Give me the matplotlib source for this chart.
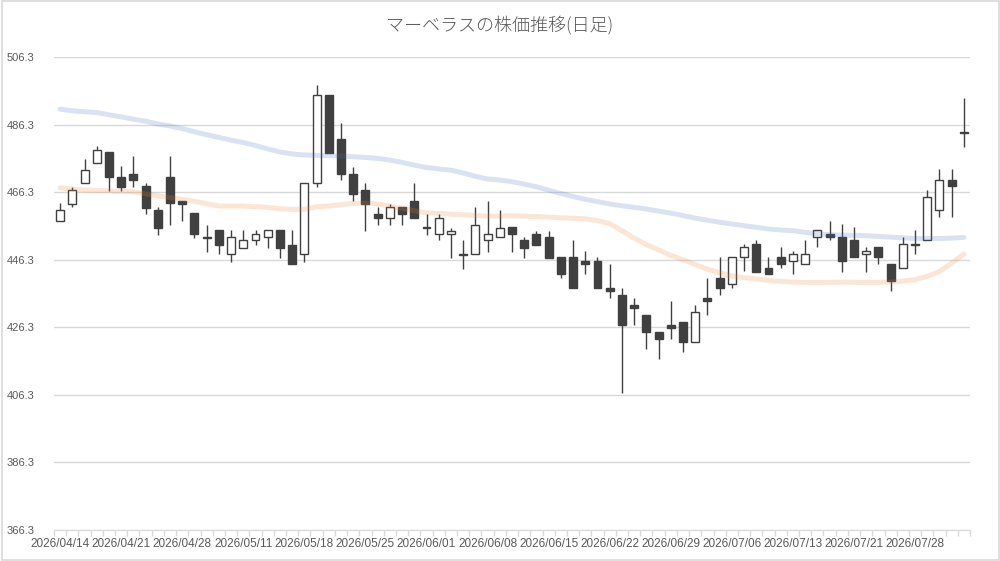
import numpy as np
import matplotlib
matplotlib.use("Agg")
import matplotlib.pyplot as plt
import matplotlib.patches as patches

dates = ["2026/04/14", "2026/04/15", "2026/04/16", "2026/04/17", "2026/04/20",
         "2026/04/21", "2026/04/22", "2026/04/23", "2026/04/24", "2026/04/27",
         "2026/04/28", "2026/04/30", "2026/05/01", "2026/05/07", "2026/05/08",
         "2026/05/11", "2026/05/12", "2026/05/13", "2026/05/14", "2026/05/15",
         "2026/05/18", "2026/05/19", "2026/05/20", "2026/05/21", "2026/05/22",
         "2026/05/25", "2026/05/26", "2026/05/27", "2026/05/28", "2026/05/29",
         "2026/06/01", "2026/06/02", "2026/06/03", "2026/06/04", "2026/06/05",
         "2026/06/08", "2026/06/09", "2026/06/10", "2026/06/11", "2026/06/12",
         "2026/06/15", "2026/06/16", "2026/06/17", "2026/06/18", "2026/06/19",
         "2026/06/22", "2026/06/23", "2026/06/24", "2026/06/25", "2026/06/26",
         "2026/06/29", "2026/06/30", "2026/07/01", "2026/07/02", "2026/07/03",
         "2026/07/06", "2026/07/07", "2026/07/08", "2026/07/09", "2026/07/10",
         "2026/07/13", "2026/07/14", "2026/07/15", "2026/07/16", "2026/07/17",
         "2026/07/21", "2026/07/22", "2026/07/23", "2026/07/24", "2026/07/27",
         "2026/07/28", "2026/07/29", "2026/07/30", "2026/07/31", "2026/08/03"]

opens = [457.9, 462.9, 468.9, 474.8, 478.1, 470.9, 471.8, 468.1, 460.9, 470.9,
         463.8, 460.0, 453.0, 455.0, 447.9, 449.9, 452.0, 452.9, 455.0, 450.8,
         447.9, 468.9, 495.0, 481.9, 471.8, 466.8, 459.9, 458.8, 461.8, 463.8,
         455.9, 453.8, 453.8, 448.0, 447.9, 452.0, 452.9, 455.9, 452.0, 453.9,
         453.0, 447.1, 447.1, 446.0, 446.0, 437.9, 435.9, 432.9, 429.9, 424.9,
         427.1, 427.9, 421.9, 435.0, 440.9, 439.1, 447.1, 450.9, 443.8, 447.1,
         445.9, 445.0, 453.0, 454.0, 453.0, 452.0, 448.0, 450.0, 445.0, 443.8,
         450.8, 452.0, 461.0, 469.9, 484.0]
highs = [463.0, 467.9, 476.0, 479.9, 478.1, 474.0, 476.9, 468.9, 461.8, 476.9,
         463.8, 460.0, 456.7, 455.0, 455.0, 455.0, 455.0, 455.0, 455.0, 455.0,
         468.9, 498.0, 495.0, 486.9, 473.9, 468.9, 461.8, 462.9, 461.8, 468.9,
         459.9, 459.9, 455.8, 452.0, 461.8, 463.8, 460.9, 455.9, 452.9, 454.9,
         454.9, 447.1, 452.1, 449.0, 447.1, 445.0, 437.9, 434.9, 429.9, 424.9,
         434.1, 427.9, 432.9, 440.9, 447.1, 447.1, 450.9, 452.0, 447.1, 450.0,
         448.9, 452.0, 455.1, 457.9, 456.8, 455.9, 450.0, 450.0, 445.0, 452.9,
         455.1, 467.0, 473.1, 473.1, 494.1]
lows = [457.9, 461.8, 468.9, 474.8, 466.7, 466.7, 467.9, 459.9, 453.7, 456.7,
        457.9, 452.8, 448.6, 447.9, 445.7, 449.9, 450.8, 449.9, 446.9, 444.9,
        445.7, 467.9, 478.0, 469.8, 463.7, 454.9, 456.7, 456.7, 456.7, 458.8,
        453.7, 452.0, 446.9, 443.7, 447.9, 448.6, 452.9, 448.6, 446.9, 450.8,
        446.9, 440.8, 437.9, 442.0, 437.9, 434.9, 406.9, 426.9, 419.8, 416.8,
        422.8, 418.9, 421.9, 429.9, 435.9, 437.9, 442.9, 442.8, 442.0, 443.8,
        442.0, 445.0, 450.0, 452.0, 442.8, 447.0, 442.8, 445.0, 436.9, 443.8,
        448.0, 452.0, 458.9, 458.9, 479.8]
closes = [461.0, 466.8, 473.0, 478.9, 470.8, 467.9, 469.8, 461.7, 455.8, 463.0,
          462.9, 453.8, 452.8, 450.8, 452.9, 452.0, 453.8, 455.0, 449.9, 444.9,
          468.9, 495.0, 478.0, 471.8, 465.8, 462.9, 458.8, 461.8, 459.9, 458.8,
          455.7, 458.8, 454.9, 447.8, 456.7, 453.8, 455.8, 453.8, 449.9, 450.8,
          446.9, 442.0, 437.9, 445.0, 437.9, 437.0, 426.9, 432.0, 424.9, 422.8,
          426.1, 421.9, 430.8, 434.1, 437.9, 447.1, 450.0, 442.8, 442.0, 445.0,
          448.0, 448.0, 455.1, 453.0, 445.8, 447.0, 448.9, 447.0, 439.9, 450.9,
          450.6, 465.0, 469.9, 468.0, 483.9]

ma_long = [490.9, 490.4, 490.1, 489.9, 489.2, 488.6, 487.9, 487.3, 486.5, 485.9,
           485.1, 484.2, 483.3, 482.5, 481.7, 481.0, 480.1, 479.1, 478.2, 477.6,
           477.3, 477.2, 477.1, 477.0, 476.8, 476.6, 476.3, 475.8, 475.1, 474.3,
           473.6, 473.2, 472.8, 472.0, 471.0, 470.2, 469.9, 469.4, 468.7, 467.9,
           466.9, 465.9, 465.0, 464.2, 463.5, 462.8, 462.3, 461.8, 461.3, 460.7,
           460.1, 459.4, 458.6, 458.0, 457.4, 456.9, 456.4, 455.9, 455.4, 455.1,
           454.9, 454.4, 454.0, 453.7, 453.6, 453.5, 453.4, 453.2, 453.0, 452.8,
           452.6, 452.6, 452.6, 452.7, 452.9]
ma_short = [467.6, 467.2, 466.9, 466.8, 466.7, 466.6, 466.4, 465.8, 465.2, 464.7,
            464.2, 463.6, 462.9, 462.2, 462.2, 462.2, 462.0, 461.8, 461.4, 461.2,
            461.2, 462.0, 462.2, 462.6, 463.0, 463.1, 462.8, 462.2, 461.5, 460.8,
            460.2, 460.0, 459.8, 459.6, 459.4, 459.2, 459.2, 459.3, 459.2, 459.1,
            458.9, 458.7, 458.6, 458.4, 457.9, 457.0, 454.9, 452.7, 450.8, 449.2,
            447.6, 446.3, 444.9, 443.5, 442.4, 441.5, 441.0, 440.6, 440.2, 439.9,
            439.7, 439.6, 439.6, 439.6, 439.7, 439.6, 439.6, 439.6, 439.7, 440.0,
            440.4, 441.4, 442.8, 445.3, 448.0]

y_ticks = [366.3, 386.3, 406.3, 426.3, 446.3, 466.3, 486.3, 506.3]

plt.rcParams['font.family'] = ['Liberation Sans', 'DejaVu Sans']

fig = plt.figure(figsize=(10, 5.61), dpi=100)
ax = fig.add_axes([0.054, 0.0553, 0.916, 0.843])

x = np.arange(len(dates))
o = np.array(opens)
c = np.array(closes)
up = c >= o
bottom = np.minimum(o, c)
height = np.maximum(np.abs(c - o), 0.3)
dark = '#404040'

ax.vlines(x, lows, highs, color=dark, linewidth=1.0, zorder=2)
ax.bar(x[up], height[up], bottom=bottom[up], width=0.65,
       color='white', edgecolor=dark, linewidth=1.0, zorder=3)
ax.bar(x[~up], height[~up], bottom=bottom[~up], width=0.65,
       color=dark, edgecolor=dark, linewidth=1.0, zorder=3)

ax.plot(x, ma_long, color='#4472c4', alpha=0.2, linewidth=3.6,
        solid_capstyle='round', zorder=4)
ax.plot(x, ma_short, color='#ed7d31', alpha=0.2, linewidth=3.6,
        solid_capstyle='round', zorder=4)

ax.set_xlim(-0.5, len(dates) - 0.5)
ax.set_ylim(366.3, 506.3)
ax.set_yticks(y_ticks)
ax.set_yticklabels(['%.1f' % v for v in y_ticks], fontsize=8, color='#595959')
ax.tick_params(axis='y', length=0, pad=14)
ax.grid(axis='y', color='#d9d9d9', linewidth=1.0, zorder=0)
ax.set_axisbelow(True)

# category boundaries as major ticks, every 5th date as label
ax.set_xticks(np.arange(len(dates) + 1) - 0.5)
ax.set_xticklabels([])
ax.tick_params(axis='x', which='major', length=4, color='#d9d9d9', width=1)
ax.set_xticks(x[::5], minor=True)
ax.set_xticklabels(dates[::5], minor=True, fontsize=8.5, color='#595959')
ax.tick_params(axis='x', which='minor', length=0, pad=6)

for s in ['left', 'right', 'top']:
    ax.spines[s].set_visible(False)
ax.spines['bottom'].set_color('#d9d9d9')

fig.text(0.5, 0.955, 'マーベラスの株価推移(日足)', ha='center', va='center',
         fontsize=13, color='#595959',
         family=['Noto Sans CJK JP', 'DejaVu Sans'], fontweight='light')

fig.patches.append(patches.Rectangle((0.0015, 0.0025), 0.997, 0.995,
                                     transform=fig.transFigure, fill=False,
                                     edgecolor='#d9d9d9', linewidth=1.2))

fig.savefig('out.png', dpi=100)
